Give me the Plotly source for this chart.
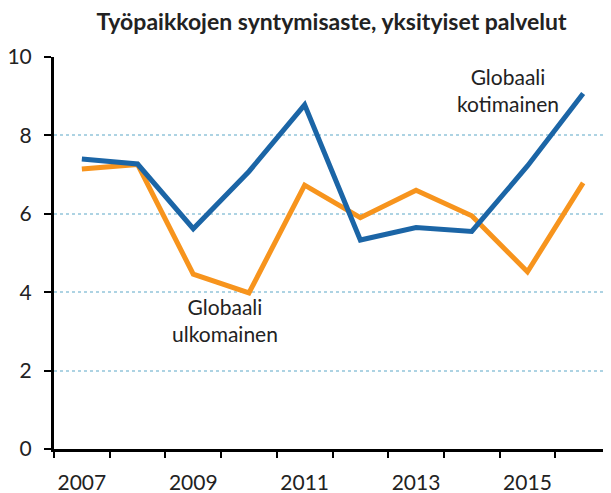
import plotly.graph_objects as go

years = [2007, 2008, 2009, 2010, 2011, 2012, 2013, 2014, 2015, 2016]
kotimainen = [7.40, 7.27, 5.62, 7.08, 8.78, 5.33, 5.65, 5.55, 7.22, 9.07]
ulkomainen = [7.14, 7.26, 4.46, 3.98, 6.73, 5.90, 6.60, 5.95, 4.52, 6.79]
x_labels = [2007, 2009, 2011, 2013, 2015]
y_ticks = [0, 2, 4, 6, 8, 10]
boundaries = [y - 0.5 for y in years] + [years[-1] + 0.5]

FONT = "Lato"
fig = go.Figure()
fig.add_trace(go.Scatter(x=years, y=ulkomainen, mode="lines", name="Globaali ulkomainen",
                         line=dict(color="#f7941d", width=5), cliponaxis=False))
fig.add_trace(go.Scatter(x=years, y=kotimainen, mode="lines", name="Globaali kotimainen",
                         line=dict(color="#1b65a6", width=5), cliponaxis=False))

fig.add_annotation(x=2014.65, y=8.45, text="Globaali<br>kotimainen", showarrow=False,
                   font=dict(family=FONT, size=21, color="#222"), xanchor="center", yanchor="bottom")
fig.add_annotation(x=2009.57, y=4.0, text="Globaali<br>ulkomainen", showarrow=False,
                   font=dict(family=FONT, size=21, color="#222"), xanchor="center", yanchor="top")

fig.update_layout(
    width=611, height=493,
    margin=dict(l=46, r=8, t=49, b=52),
    paper_bgcolor="white", plot_bgcolor="white",
    showlegend=False,
    title=dict(text="<b>Työpaikkojen syntymisaste, yksityiset palvelut</b>",
               x=0.5295, xanchor="center", y=0.972, yanchor="middle",
               font=dict(family=FONT, size=23, color="#222")),
    font=dict(family=FONT, size=21, color="#222"),
)
fig.update_xaxes(range=[2006.5, 2016.5], tickvals=x_labels, ticktext=[str(v) for v in x_labels],
                 ticks="", showgrid=False, zeroline=False, automargin=False,
                 showline=True, linecolor="black", linewidth=3, ticklabelstandoff=13,
                 tickfont=dict(family=FONT, size=21, color="#222"),
                 minor=dict(tickvals=boundaries, ticks="outside", ticklen=6, tickwidth=2,
                            tickcolor="black", showgrid=False))
fig.update_yaxes(range=[0, 10], tickvals=y_ticks, ticks="outside", ticklen=7, tickwidth=2,
                 tickcolor="black", showline=True, linecolor="black", linewidth=3,
                 showgrid=True, gridcolor="#add3e3", gridwidth=2, griddash="dot",
                 zeroline=False, ticklabelstandoff=8, automargin=False,
                 tickfont=dict(family=FONT, size=21, color="#222"))

fig.write_html("out.html")
